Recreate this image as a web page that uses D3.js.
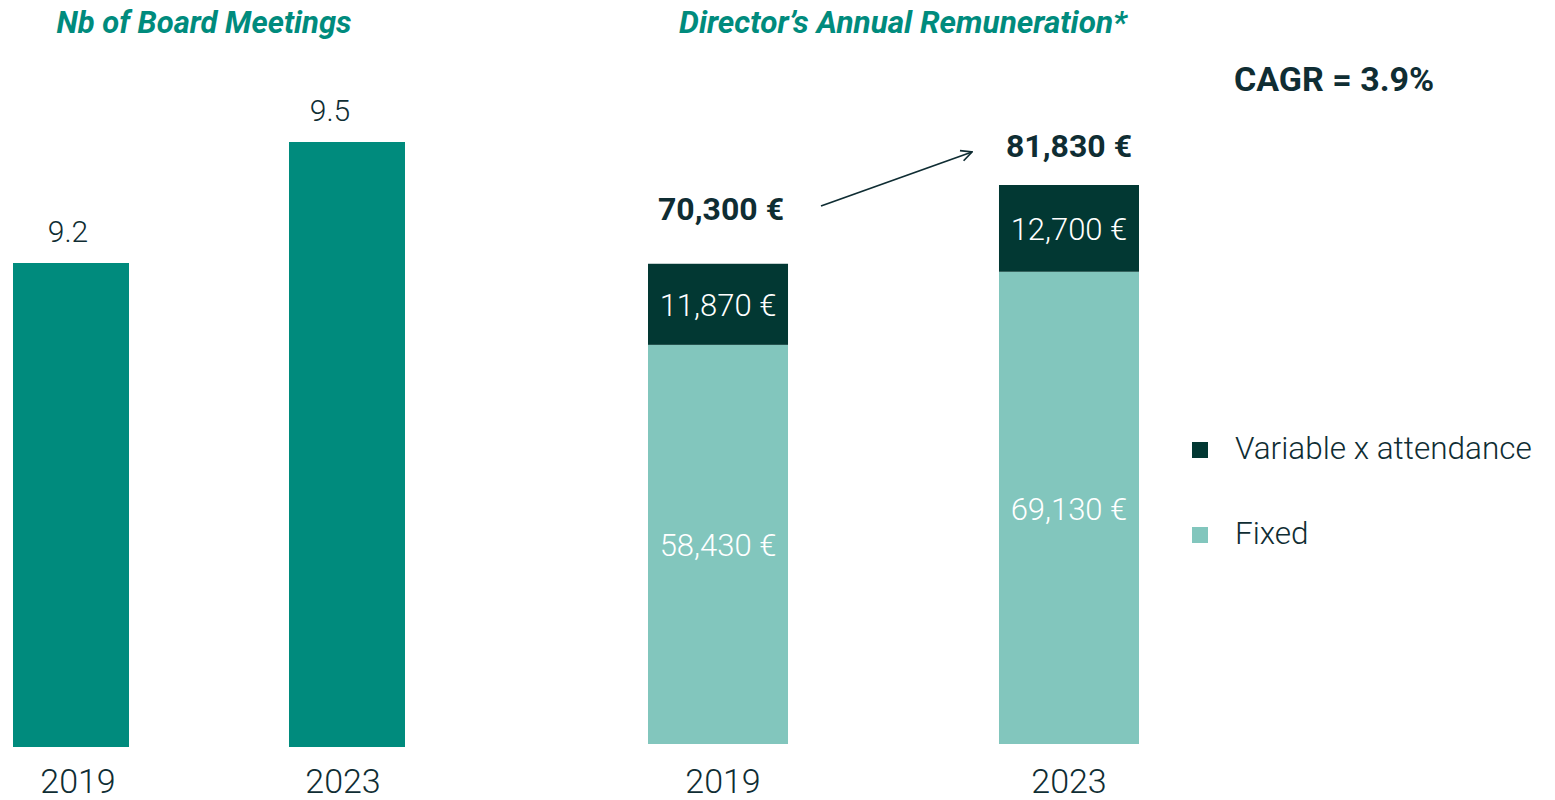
<!DOCTYPE html>
<html>
<head>
<meta charset="utf-8">
<script src="https://cdn.jsdelivr.net/npm/d3@7"></script>
<style>
  body { margin: 0; background: #fff; }
  text { font-family: Roboto, "Noto Sans", sans-serif; }
</style>
</head>
<body>
<script>
// board meetings
let meetingYears = ["2019", "2023"];
let meetingValues = [9.2, 9.5];

// remuneration
let remYears = ["2019", "2023"];
let fixedValues = [58430, 69130];
let variableValues = [11870, 12700];
let totalLabels = ["70,300 €", "81,830 €"];
let legendLabels = ["Variable x attendance", "Fixed"];
let cagrLabel = "CAGR = 3.9%";

let teal = "#008b7d",
    dark = "#023833",
    light = "#82c6bd",
    ink = "#0f2d33";

let svg = d3.select("body").append("svg")
    .attr("width", 1555)
    .attr("height", 800);

let fmt = d3.format(",");

// ---- left chart
let x1 = d3.scaleBand(meetingYears, [13, 405]).paddingInner(0.5797);
let y1 = d3.scaleLinear([8, 9.5], [747, 142]);

svg.append("text")
    .attr("x", 204).attr("y", 33)
    .attr("text-anchor", "middle")
    .attr("font-size", 31).attr("font-weight", "bold").attr("font-style", "italic")
    .attr("fill", teal)
    .text("Nb of Board Meetings");

svg.selectAll(".mbar").data(meetingValues).enter().append("rect")
    .attr("class", "mbar")
    .attr("x", (d, i) => x1(meetingYears[i]))
    .attr("y", d => y1(d))
    .attr("width", x1.bandwidth())
    .attr("height", d => y1(8) - y1(d))
    .attr("fill", teal);

let valShift = [-3, -17];
svg.selectAll(".mval").data(meetingValues).enter().append("text")
    .attr("class", "mval")
    .attr("x", (d, i) => x1(meetingYears[i]) + x1.bandwidth() / 2 + valShift[i])
    .attr("y", d => y1(d) - 21)
    .attr("text-anchor", "middle")
    .attr("font-size", 30).attr("font-weight", 300)
    .attr("fill", ink)
    .text(d => d);

svg.selectAll(".myear").data(meetingYears).enter().append("text")
    .attr("class", "myear")
    .attr("x", (d, i) => x1(d) + x1.bandwidth() / 2 + (i ? -4 : 7))
    .attr("y", 793)
    .attr("text-anchor", "middle")
    .attr("font-size", 34).attr("font-weight", 300)
    .attr("fill", ink)
    .text(d => d);

// ---- right chart
let x2 = d3.scaleBand(remYears, [648, 1139]).paddingInner(0.6011);
let y2 = d3.scaleLinear([0, 81830], [744, 185]);

let rows = remYears.map((yr, i) => ({year: yr, fixed: fixedValues[i], variable: variableValues[i]}));
let series = d3.stack().keys(["fixed", "variable"])(rows);
let colours = {fixed: light, variable: dark};

svg.append("text")
    .attr("x", 903).attr("y", 33)
    .attr("text-anchor", "middle")
    .attr("font-size", 31.5).attr("font-weight", "bold").attr("font-style", "italic")
    .attr("fill", teal)
    .text("Director’s Annual Remuneration*");

let groups = svg.selectAll(".series").data(series).enter().append("g")
    .attr("class", "series")
    .attr("fill", d => colours[d.key]);

groups.selectAll("rect").data(d => d).enter().append("rect")
    .attr("x", d => x2(d.data.year))
    .attr("y", d => y2(d[1]))
    .attr("width", x2.bandwidth())
    .attr("height", d => y2(d[0]) - y2(d[1]));

groups.selectAll("text").data(d => d).enter().append("text")
    .attr("x", d => x2(d.data.year) + x2.bandwidth() / 2)
    .attr("y", d => (y2(d[0]) + y2(d[1])) / 2 + 12)
    .attr("text-anchor", "middle")
    .attr("font-size", 31).attr("font-weight", 300)
    .attr("fill", "#fff")
    .text(d => fmt(d[1] - d[0]) + " €");

let totalOffset = [44, 28];
svg.selectAll(".total").data(rows).enter().append("text")
    .attr("class", "total")
    .attr("x", (d, i) => x2(d.year) + x2.bandwidth() / 2 + (i ? 0 : 3))
    .attr("y", (d, i) => y2(d.fixed + d.variable) - totalOffset[i])
    .attr("text-anchor", "middle")
    .attr("font-size", 32).attr("font-weight", "bold")
    .attr("fill", ink)
    .text((d, i) => totalLabels[i]);

svg.selectAll(".ryear").data(remYears).enter().append("text")
    .attr("class", "ryear")
    .attr("x", (d, i) => x2(d) + x2.bandwidth() / 2 + (i ? 0 : 5))
    .attr("y", 793)
    .attr("text-anchor", "middle")
    .attr("font-size", 34).attr("font-weight", 300)
    .attr("fill", ink)
    .text(d => d);

// growth arrow
svg.append("defs").append("marker")
    .attr("id", "arrow")
    .attr("viewBox", "0 0 12 12")
    .attr("refX", 11).attr("refY", 6)
    .attr("markerWidth", 13).attr("markerHeight", 13)
    .attr("markerUnits", "userSpaceOnUse")
    .attr("orient", "auto")
    .append("path")
    .attr("d", "M1,1 L11,6 L1,11")
    .attr("fill", "none")
    .attr("stroke", ink)
    .attr("stroke-width", 1.6);

svg.append("line")
    .attr("x1", 821).attr("y1", 206)
    .attr("x2", 972).attr("y2", 152)
    .attr("stroke", ink)
    .attr("stroke-width", 1.8)
    .attr("marker-end", "url(#arrow)");

svg.append("text")
    .attr("x", 1234).attr("y", 91)
    .attr("font-size", 34).attr("font-weight", "bold")
    .attr("fill", ink)
    .text(cagrLabel);

// legend
let legend = svg.selectAll(".legend").data(legendLabels).enter().append("g")
    .attr("class", "legend")
    .attr("transform", (d, i) => `translate(1192, ${442 + i * 85})`);

legend.append("rect")
    .attr("width", 16).attr("height", 16)
    .attr("fill", (d, i) => i ? light : dark);

legend.append("text")
    .attr("x", 43).attr("y", 17)
    .attr("font-size", 31.5).attr("font-weight", 300)
    .attr("fill", ink)
    .text(d => d);
</script>
</body>
</html>
